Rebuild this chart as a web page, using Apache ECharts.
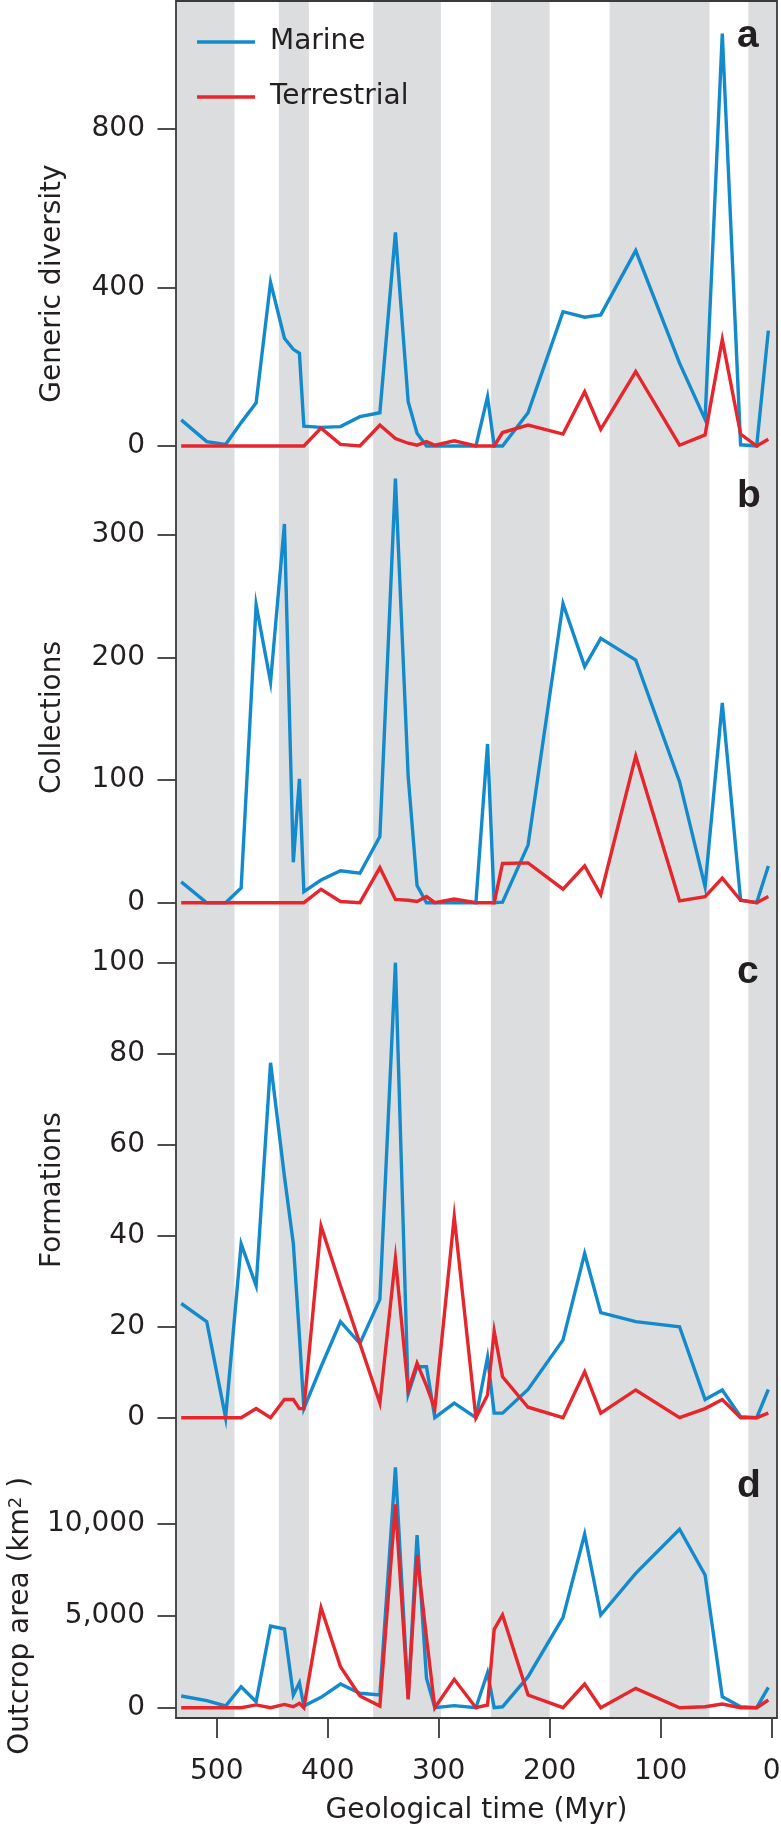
<!DOCTYPE html>
<html><head><meta charset="utf-8">
<script src="https://cdn.jsdelivr.net/npm/echarts@6/dist/echarts.min.js"></script>
<style>html,body{margin:0;padding:0;background:#fff}#c{width:781px;height:1825px}</style>
</head><body><div id="c"></div>
<script>
// ---- data (Myr before present) ----
const times = [532, 509, 492, 478, 464.5, 451.5, 439, 431, 425.5, 421.5, 406, 388.5, 371, 353, 339, 327.5, 319.5, 311, 303.5, 286, 266.5, 256, 250, 242.5, 219.5, 188, 168.5, 154, 122.5, 83, 60, 44.5, 28, 13.5, 3];

const diversityMarine      = [66, 11, 4, 59, 109, 413, 272, 244, 234, 50, 47, 49, 74, 84, 539, 112, 32, 0, 0, 0, 0, 124, 0, 0, 84, 339, 325, 331, 493, 209, 67, 1041, 3, 0, 291];
const diversityTerrestrial = [0, 0, 0, 0, 0, 0, 0, 0, 0, 0, 45, 4, 0, 53, 19, 7, 2, 11, 2, 13, 0, 0, 0, 34, 53, 30, 137, 42, 188, 2, 28, 269, 30, 0, 17];

const collectionsMarine      = [17, 0, 0, 12, 243, 180, 309, 33, 101, 9, 18.5, 26, 24, 54, 346, 103, 14, 0, 0, 0, 0, 129.5, 0, 0.5, 47, 244, 192.6, 215.7, 198, 98.7, 13, 163, 2, 0, 30];
const collectionsTerrestrial = [0, 0, 0, 0, 0, 0, 0, 0, 0, 0, 11, 1, 0, 28.6, 2.7, 2, 1, 5, 0, 3, 0, 0, 0, 32, 32.5, 11, 30, 6.5, 119.6, 1.5, 5, 20, 2, 0, 5];

const formationsMarine      = [25.1, 21.1, 0, 38.2, 29, 78, 53, 38.3, 18, 2, 11.2, 21.1, 16.3, 26, 100, 5.2, 11.2, 11.2, 0, 3.2, 0, 13.3, 1, 1, 6.2, 17.1, 36.1, 23.1, 21.1, 20, 4, 6.1, 0.2, 0, 6.2];
const formationsTerrestrial = [0, 0, 0, 0, 2, 0, 4, 4, 2, 2, 42.1, 29, 16.3, 3.2, 35, 6, 12, 7, 2, 44.2, 0, 5, 19, 9, 2.3, 0, 10.1, 1, 6.1, 0, 2, 4, 0, 0, 1];

const outcropMarine      = [634, 380, 92, 1139, 325, 4430, 4268, 689, 1356, 92, 564, 1285, 781, 689, 13037, 500, 9366, 1594, 0, 110, 0, 1900, 0, 50, 1680, 4900, 9420, 5027, 7288, 9675, 7196, 597, 50, 0, 1106];
const outcropTerrestrial = [0, 0, 0, 0, 150, 0, 180, 55, 235, 0, 5423, 2224, 634, 92, 11030, 455, 8281, 3800, 0, 1540, 0, 145, 4250, 5027, 689, 0, 1285, 0, 1050, 0, 50, 200, 0, 0, 418];

const bandRanges = [[541, 484], [444, 417], [359, 298], [253, 200], [146, 56], [21, -5]];
const xTicks = [0, 100, 200, 300, 400, 500];
const yTicks = [[0, 400, 800], [0, 100, 200, 300], [0, 20, 40, 60, 80, 100], [0, 5000, 10000]];
const panelNames = ['Generic diversity', 'Collections', 'Formations', 'Outcrop area (km{sup|2} )'];
const panelLetters = ['a', 'b', 'c', 'd'];
const seriesNames = ['Marine', 'Terrestrial'];

const marineSets = [diversityMarine, collectionsMarine, formationsMarine, outcropMarine];
const terrSets = [diversityTerrestrial, collectionsTerrestrial, formationsTerrestrial, outcropTerrestrial];

// ---- layout / style ----
const W = 781, H = 1825;
const BLUE = '#138acc', RED = '#e5262c', BAND = '#dcdddf', INK = '#231f20', AXIS = '#3a3a3a';
const FONT = 'DejaVu Sans';
const LINE_W = 3.4;
const X_MIN = -4.8, X_MAX = 536.7;
const FRAME = { left: 176, right: 4, top: 1, bottom: 107 };
const layout = [
  { zero: 446,    ppu: 0.39625, top: 1,    bottom: 566,    gap: 109,   letterY: 36 },
  { zero: 902.7,  ppu: 1.2257,  top: 446,  bottom: 989,    gap: 109,   letterY: 496.7 },
  { zero: 1417.7, ppu: 4.55,    top: 903,  bottom: 1477,   gap: 109,   letterY: 972.7 },
  { zero: 1707.7, ppu: 0.01844, top: 1418, bottom: 1813.6, gap: 141,   letterY: 1486.7 }
];

const noLine = { show: false, onZero: false };
const grids = [{ left: FRAME.left, right: FRAME.right, top: FRAME.top, bottom: FRAME.bottom, containLabel: false, outerBoundsMode: 'none' }];
const xAxes = [
  { gridIndex: 0, type: 'value', inverse: true, min: X_MIN, max: X_MAX, position: 'bottom', z: 10,
    axisLine: { show: true, onZero: false, lineStyle: { color: AXIS, width: 1.8 } },
    axisTick: { show: true, length: 20, lineStyle: { color: AXIS, width: 1.8 }, customValues: xTicks },
    axisLabel: { show: true, customValues: xTicks, margin: 40, fontFamily: FONT, fontSize: 28, color: INK, hideOverlap: false },
    splitLine: { show: false },
    name: 'Geological time (Myr)', nameLocation: 'middle', nameGap: 79,
    nameTextStyle: { fontFamily: FONT, fontSize: 28, color: INK } },
  { gridIndex: 0, type: 'value', inverse: true, min: X_MIN, max: X_MAX, position: 'top', z: 10,
    axisLine: { show: true, onZero: false, lineStyle: { color: AXIS, width: 1.8 } },
    axisTick: { show: false }, axisLabel: { show: false }, splitLine: { show: false } }
];
const yAxes = [
  { gridIndex: 0, type: 'value', min: 0, max: 1, position: 'left', z: 10,
    axisLine: { show: true, onZero: false, lineStyle: { color: AXIS, width: 1.8 } },
    axisTick: { show: false }, axisLabel: { show: false }, splitLine: { show: false } },
  { gridIndex: 0, type: 'value', min: 0, max: 1, position: 'right', z: 10,
    axisLine: { show: true, onZero: false, lineStyle: { color: AXIS, width: 1.8 } },
    axisTick: { show: false }, axisLabel: { show: false }, splitLine: { show: false } }
];

const series = [{
  type: 'custom', xAxisIndex: 0, yAxisIndex: 0, z: 1, silent: true, clip: true,
  data: bandRanges.map(b => [Math.min(b[0], X_MAX), Math.max(b[1], X_MIN)]),
  encode: { x: [0, 1] },
  renderItem: (params, api) => {
    const p1 = api.coord([api.value(0), 1]);
    const p2 = api.coord([api.value(1), 0]);
    return { type: 'rect',
      shape: { x: Math.min(p1[0], p2[0]), y: p1[1], width: Math.abs(p2[0] - p1[0]), height: p2[1] - p1[1] },
      style: { fill: BAND } };
  }
}];

const graphics = [];
layout.forEach((L, i) => {
  grids.push({ left: FRAME.left, right: FRAME.right, top: L.top, bottom: H - L.bottom, containLabel: false, outerBoundsMode: 'none' });
  const gi = i + 1;
  xAxes.push({ gridIndex: gi, type: 'value', inverse: true, min: X_MIN, max: X_MAX, show: false,
    axisLine: noLine, axisTick: { show: false }, axisLabel: { show: false }, splitLine: { show: false } });
  const yMin = -(L.bottom - L.zero) / L.ppu;
  const yMax = (L.zero - L.top) / L.ppu;
  yAxes.push({
    gridIndex: gi, type: 'value', min: yMin, max: yMax, position: 'left', z: 10,
    axisLine: noLine,
    axisTick: { show: true, length: 18.5, customValues: yTicks[i], lineStyle: { color: AXIS, width: 1.8 } },
    axisLabel: { show: true, customValues: yTicks[i], margin: 31, fontFamily: FONT, fontSize: 28, color: INK, hideOverlap: false,
      formatter: v => (Math.abs(v) >= 1000 ? Number(v).toLocaleString('en-US') : String(v)) },
    splitLine: { show: false },
    name: panelNames[i], nameLocation: 'middle', nameRotate: 90, nameGap: L.gap,
    nameTextStyle: { fontFamily: FONT, fontSize: 28, color: INK,
      rich: { sup: { fontFamily: FONT, fontSize: 18, color: INK, verticalAlign: 'top', lineHeight: 22 } } }
  });
  const ai = i + 2;
  series.push({ type: 'line', name: seriesNames[0], xAxisIndex: ai, yAxisIndex: ai,
    data: times.map((t, k) => [t, marineSets[i][k]]),
    showSymbol: false, symbol: 'none', clip: false, silent: true, z: 3,
    lineStyle: { width: LINE_W, color: BLUE, join: 'miter' }, itemStyle: { color: BLUE } });
  series.push({ type: 'line', name: seriesNames[1], xAxisIndex: ai, yAxisIndex: ai,
    data: times.map((t, k) => [t, terrSets[i][k]]),
    showSymbol: false, symbol: 'none', clip: false, silent: true, z: 4,
    lineStyle: { width: LINE_W, color: RED, join: 'miter' }, itemStyle: { color: RED } });
  graphics.push({ type: 'text', x: 737, y: L.letterY, z: 20,
    style: { text: panelLetters[i], fontFamily: 'Liberation Sans', fontWeight: 'bold', fontSize: 39,
      fill: INK, align: 'left', verticalAlign: 'middle' } });
});

const chart = echarts.init(document.getElementById('c'), null, { renderer: 'canvas', width: W, height: H });
chart.setOption({
  animation: false,
  backgroundColor: '#fff',
  grid: grids,
  xAxis: xAxes,
  yAxis: yAxes,
  legend: {
    data: seriesNames, orient: 'vertical', left: 197, top: 27, selectedMode: false,
    icon: 'rect', itemWidth: 58, itemHeight: 3.4, itemGap: 25, padding: 0,
    textStyle: { fontFamily: FONT, fontSize: 28, color: INK, lineHeight: 30, padding: [0, 0, 0, 10] }
  },
  graphic: graphics,
  series: series
});
</script></body></html>
